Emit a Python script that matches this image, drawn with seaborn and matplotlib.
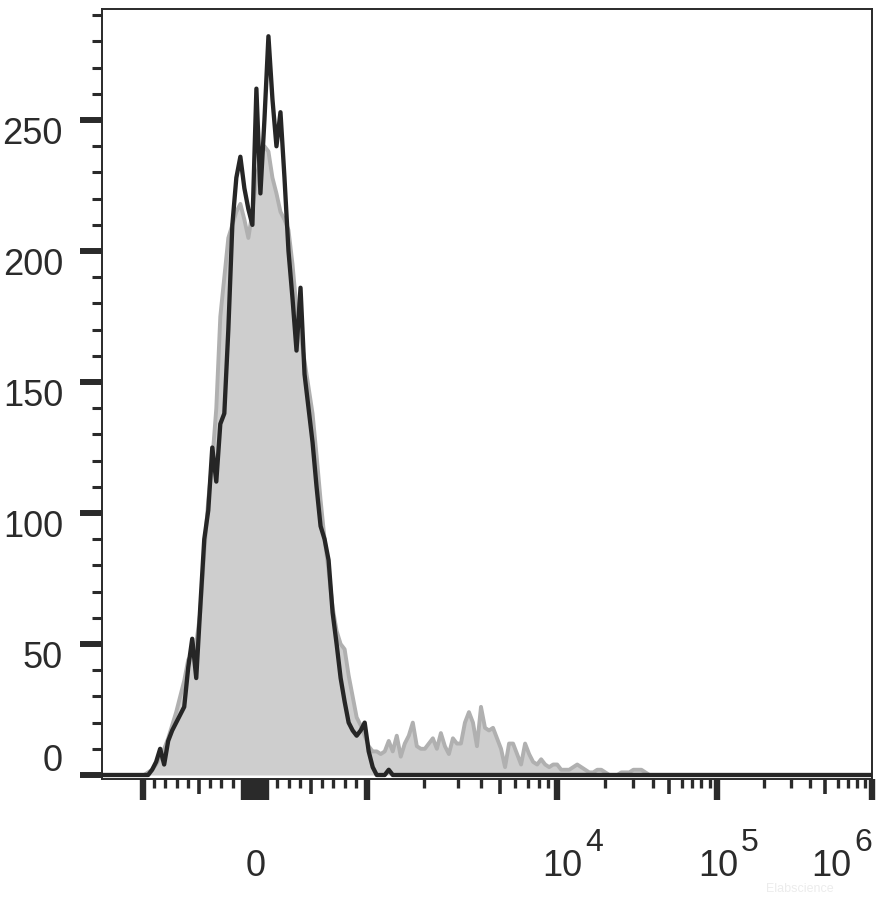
import numpy as np
import pandas as pd
import matplotlib
matplotlib.use('Agg')
import matplotlib.pyplot as plt
import seaborn as sns
from matplotlib.ticker import MultipleLocator, FixedLocator

# Histogram counts per display channel (192 channels across the axis)
n_channels = 192
black_start = 11
black_counts = [0, 2, 5, 10, 4, 13, 17, 20, 23, 26, 41, 52, 37, 64, 90, 101, 125, 112, 134, 138,
                170, 210, 228, 236, 224, 216, 210, 262, 222, 250, 282, 258, 240, 253, 228, 200,
                182, 162, 186, 153, 140, 127, 110, 95, 90, 82, 62, 50, 37, 28, 20, 17, 15, 17,
                20, 9, 3, 0, 0, 0, 2, 0]
grey_start = 11
grey_counts = [1, 2, 4, 7, 10, 14, 19, 24, 30, 36, 44, 46, 50, 62, 85, 105, 120, 140, 175, 190,
               205, 210, 215, 218, 212, 205, 215, 228, 235, 240, 238, 228, 222, 215, 212, 208,
               195, 178, 168, 158, 148, 138, 122, 105, 90, 78, 64, 55, 50, 48, 38, 30, 22, 19,
               15, 11, 9, 9, 8, 9, 13, 9, 15, 7, 12, 15, 20, 11, 10, 10, 12, 14, 10, 16, 11, 8,
               14, 12, 12, 20, 24, 20, 11, 26, 18, 17, 18, 14, 10, 3, 12, 12, 8, 4, 12, 8, 5, 4,
               6, 4, 3, 4, 4, 2, 2, 2, 3, 4, 3, 2, 1, 1, 2, 2, 1, 0, 0, 0, 1, 1, 1, 2, 2, 2, 1]

# biexponential-like axis: linear around zero, log decades above 10^3
lin_fl = [-1000, 0, 1000]
lin_ch = [10.22, 38.15, 66.08]
dec_exp = [3, 4, 5, 6]
dec_ch = [66.08, 113.46, 153.35, 192.0]


def fl_to_ch(v):
    v = np.asarray(v, dtype=float)
    out = np.interp(v, lin_fl, lin_ch)
    big = v > 1000
    out[big] = np.interp(np.log10(v[big]), dec_exp, dec_ch)
    return out


near_zero = [s * k for s in (-1, 1) for k in range(10, 101, 10)]
long_ticks = [-1000, 0, 1000, 1e4, 1e5, 1e6] + near_zero
mid_ticks = [-500, 500, 5e3, 5e4, 5e5]
short_ticks = [s * k for s in (-1, 1) for k in (200, 300, 400, 600, 700, 800, 900)] + \
              [k * 10 ** d for d in (3, 4, 5) for k in (2, 3, 4, 6, 7, 8, 9)]

x_label_vals = [0, 1e4, 1e5, 1e6]
x_label_base = ['0', '10', '10', '10']
x_label_exp = ['', '4', '5', '6']
x_label_shift = [1, 5, 1, -41]

y_label_vals = [0, 50, 100, 150, 200, 250]

black = np.zeros(n_channels)
black[black_start:black_start + len(black_counts)] = black_counts
grey = np.zeros(n_channels)
grey[grey_start:grey_start + len(grey_counts)] = grey_counts
channel = np.arange(n_channels) + 0.5

df = pd.DataFrame({'channel': channel, 'isotype': black, 'sample': grey})

sns.set_style('ticks')
plt.rcParams['font.family'] = ['Liberation Sans', 'DejaVu Sans']

dark = '#2a2a2a'
fig = plt.figure(figsize=(8.91, 8.97), dpi=100)
ax = fig.add_axes([102 / 891, 118 / 897, 770 / 891, 770 / 897])

ax.fill_between(df['channel'], 0, df['sample'], color='#cecece', lw=0, zorder=1)
sns.lineplot(data=df, x='channel', y='sample', color='#b0b0b0', lw=2.8, ax=ax, zorder=2)
sns.lineplot(data=df, x='channel', y='isotype', color='#262626', lw=3.1, ax=ax, zorder=3,
             solid_capstyle='projecting')

ax.set_xlim(0, n_channels)
ax.set_ylim(-1.53, 292.4)
ax.set_xlabel('')
ax.set_ylabel('')

for side in ['left', 'right', 'top', 'bottom']:
    ax.spines[side].set_color(dark)
    ax.spines[side].set_linewidth(1.4)

ax.yaxis.set_major_locator(MultipleLocator(50))
ax.yaxis.set_minor_locator(MultipleLocator(10))
ax.tick_params(axis='y', which='major', length=15.8, width=4.3, color=dark, labelleft=False)
ax.tick_params(axis='y', which='minor', length=7.2, width=2.2, color=dark)

ax.xaxis.set_major_locator(FixedLocator(fl_to_ch(long_ticks)))
ax.xaxis.set_minor_locator(FixedLocator(fl_to_ch(short_ticks)))
ax.tick_params(axis='x', which='major', length=15, width=4.6, color=dark, labelbottom=False)
ax.tick_params(axis='x', which='minor', length=6.5, width=2.4, color=dark)

sec = ax.secondary_xaxis('bottom', functions=(lambda x: x, lambda x: x))
sec.set_xticks(fl_to_ch(mid_ticks))
sec.tick_params(axis='x', length=10.8, width=2.6, color=dark, labelbottom=False)
sec.spines['bottom'].set_visible(False)

for v, base, ex, dx in zip(x_label_vals, x_label_base, x_label_exp, x_label_shift):
    xc = float(fl_to_ch([v])[0])
    ax.annotate(base, xy=(xc, 0), xycoords=('data', 'axes fraction'), xytext=(dx, -87),
                textcoords='offset pixels', ha='center', va='center', fontsize=26,
                color='#2b2b2b', annotation_clip=False)
    if ex:
        ax.annotate(ex, xy=(xc, 0), xycoords=('data', 'axes fraction'), xytext=(dx + 32, -64),
                    textcoords='offset pixels', ha='center', va='center', fontsize=23,
                    color='#2b2b2b', annotation_clip=False)

for v in y_label_vals:
    dy = 13 if v == 0 else -14
    ax.annotate(str(v), xy=(0, v), xycoords=('axes fraction', 'data'), xytext=(-39, dy),
                textcoords='offset pixels', ha='right', va='center', fontsize=26,
                color='#2b2b2b', annotation_clip=False)

# faint watermark, kept below the exponent labels
fig.text(800 / 891, 1 - 889 / 897, 'Elabscience', color='#ececec', fontsize=9,
         ha='center', va='center', zorder=0)

fig.savefig('out.png', dpi=100)
